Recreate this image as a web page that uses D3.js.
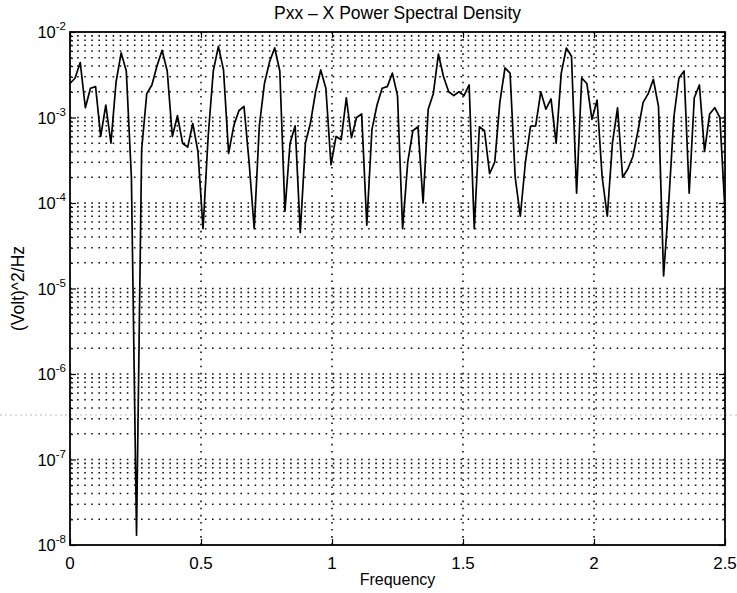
<!DOCTYPE html>
<html>
<head>
<meta charset="utf-8">
<script src="https://cdn.jsdelivr.net/npm/d3@7"></script>
<style>
body { margin: 0; background: #fff; }
text { font-family: "Liberation Sans", Arial, sans-serif; fill: #000; }
</style>
</head>
<body>
<script>
"use strict";

// PSD bins: 129 points from 0 to 2.5 Hz
const binWidth = 2.5 / 128

const psd = [
    2.5e-3, 2.9e-3, 4.4e-3, 1.3e-3, 2.2e-3, 2.3e-3, 6e-4, 1.4e-3, 5e-4, 2.6e-3,
    5.7e-3, 3.5e-3, 2e-4, 1.3e-8, 4.2e-4, 1.9e-3, 2.4e-3, 4e-3, 6.1e-3, 3.5e-3,
    6e-4, 1.05e-3, 5e-4, 4.5e-4, 8.5e-4, 4e-4, 5e-5, 6e-4, 3.5e-3, 6.8e-3,
    3.6e-3, 3.8e-4, 8e-4, 1.2e-3, 1.35e-3, 3e-4, 5e-5, 8e-4, 2.5e-3, 4.5e-3,
    6.5e-3, 3.5e-3, 8e-5, 5e-4, 8e-4, 4.5e-5, 5e-4, 8.7e-4, 2e-3, 3.6e-3,
    2.2e-3, 2.8e-4, 6e-4, 5.5e-4, 1.7e-3, 5.8e-4, 1e-3, 1.1e-3, 5.5e-5, 7.2e-4,
    1.4e-3, 2.2e-3, 2.3e-3, 3.3e-3, 1.8e-3, 5e-5, 3e-4, 7e-4, 7.8e-4, 1e-4,
    1.25e-3, 1.9e-3, 5.5e-3, 3e-3, 2e-3, 1.8e-3, 2e-3, 1.8e-3, 2.4e-3, 5e-5,
    7.8e-4, 7e-4, 2.2e-4, 3e-4, 1.5e-3, 3.8e-3, 3.3e-3, 2e-4, 7e-5, 3e-4,
    7.9e-4, 8e-4, 2e-3, 1.25e-3, 1.65e-3, 5e-4, 3.3e-3, 6.5e-3, 5.2e-3, 1.3e-4,
    2.9e-3, 2.5e-3, 9.5e-4, 1.6e-3, 2e-4, 7e-5, 5e-4, 1.3e-3, 2e-4, 2.5e-4,
    3.5e-4, 7e-4, 1.5e-3, 1.9e-3, 2.8e-3, 1.35e-3, 1.4e-5, 1e-4, 1e-3, 2.9e-3,
    3.5e-3, 1.3e-4, 1.7e-3, 2.4e-3, 4e-4, 1.1e-3, 1.3e-3, 1e-3, 8e-5
]

const xTicks = [0, 0.5, 1, 1.5, 2, 2.5]
const xTickLabels = ["0", "0.5", "1", "1.5", "2", "2.5"]
const yExponents = [-8, -7, -6, -5, -4, -3, -2]
const minorMultipliers = [2, 3, 4, 5, 6, 7, 8, 9]

const titleText = "Pxx \u2013 X Power Spectral Density"
const xLabelText = "Frequency"
const yLabelText = "(Volt)^2/Hz"

const measurements = {
    width: 737,
    height: 593,
    left: 70,
    right: 725,
    top: 32,
    bottom: 545
}

const svg = d3.select("body").append("svg")
    .attr("width", measurements.width)
    .attr("height", measurements.height)

const scaleX = d3.scaleLinear()
    .domain([0, 2.5])
    .range([measurements.left, measurements.right])

const scaleY = d3.scaleLog()
    .domain([1e-8, 1e-2])
    .range([measurements.bottom, measurements.top])

// grid values
let minorValues = []
yExponents.slice(0, -1).forEach(function(e) {
    minorMultipliers.forEach(function(m) {
        minorValues.push(m * Math.pow(10, e))
    })
})
const majorValues = yExponents.map((e) => Math.pow(10, e))

const grid = svg.append("g")
    .attr("stroke", "#111")
    .attr("stroke-width", 1.6)
    .attr("stroke-dasharray", "1.6,5.5")

grid.selectAll(".hgrid")
    .data(majorValues.concat(minorValues).filter((v) => v > 1e-8 && v < 1e-2))
    .enter()
    .append("line")
        .attr("x1", measurements.left)
        .attr("x2", measurements.right)
        .attr("y1", (d) => scaleY(d))
        .attr("y2", (d) => scaleY(d))

grid.selectAll(".vgrid")
    .data(xTicks.slice(1, -1))
    .enter()
    .append("line")
        .attr("x1", (d) => scaleX(d))
        .attr("x2", (d) => scaleX(d))
        .attr("y1", measurements.top)
        .attr("y2", measurements.bottom)

// scan streak across the page
svg.append("line")
    .attr("x1", 0).attr("x2", measurements.width)
    .attr("y1", 415).attr("y2", 415)
    .attr("stroke", "#bbb")
    .attr("stroke-width", 1)
    .attr("stroke-dasharray", "2,3")

// axes via d3 axis generators, ticks pointing inward
const xAxisBottom = d3.axisBottom(scaleX).tickValues(xTicks).tickSize(-6).tickFormat("")
const xAxisTop = d3.axisTop(scaleX).tickValues(xTicks).tickSize(-6).tickFormat("")
const yAxisLeft = d3.axisLeft(scaleY).tickValues(majorValues).tickSize(-6).tickFormat("")
const yAxisRight = d3.axisRight(scaleY).tickValues(majorValues).tickSize(-6).tickFormat("")
const yMinorLeft = d3.axisLeft(scaleY).tickValues(minorValues).tickSize(-3).tickFormat("")
const yMinorRight = d3.axisRight(scaleY).tickValues(minorValues).tickSize(-3).tickFormat("")

function addAxis(axis, tx, ty) {
    const g = svg.append("g")
        .attr("transform", "translate(" + tx + "," + ty + ")")
        .call(axis)
    g.select(".domain").remove()
    g.selectAll("line").attr("stroke", "#000").attr("stroke-width", 1.2)
    return g
}

addAxis(xAxisBottom, 0, measurements.bottom)
addAxis(xAxisTop, 0, measurements.top)
addAxis(yAxisLeft, measurements.left, 0)
addAxis(yAxisRight, measurements.right, 0)
addAxis(yMinorLeft, measurements.left, 0)
addAxis(yMinorRight, measurements.right, 0)

// the spectrum line
const line = d3.line()
    .x((d, i) => scaleX(i * binWidth))
    .y((d) => scaleY(d))

svg.append("path")
    .datum(psd)
    .attr("d", line)
    .attr("fill", "none")
    .attr("stroke", "#000")
    .attr("stroke-width", 1.7)
    .attr("stroke-linejoin", "round")

// box
svg.append("rect")
    .attr("x", measurements.left)
    .attr("y", measurements.top)
    .attr("width", measurements.right - measurements.left)
    .attr("height", measurements.bottom - measurements.top)
    .attr("fill", "none")
    .attr("stroke", "#000")
    .attr("stroke-width", 1.8)

// tick labels
svg.selectAll(".xlab")
    .data(xTicks)
    .enter()
    .append("text")
        .attr("x", (d) => scaleX(d))
        .attr("y", 569)
        .attr("text-anchor", "middle")
        .style("font-size", "17px")
        .text((d, i) => xTickLabels[i])

const yLabs = svg.selectAll(".ylab")
    .data(yExponents)
    .enter()
    .append("text")
        .attr("x", 66)
        .attr("y", (d) => scaleY(Math.pow(10, d)) + 6)
        .attr("text-anchor", "end")
        .style("font-size", "16.5px")

yLabs.append("tspan").text("10")
yLabs.append("tspan")
    .attr("dy", -8)
    .style("font-size", "11.5px")
    .text((d) => "-" + Math.abs(d))

svg.append("text")
    .attr("x", (measurements.left + measurements.right) / 2)
    .attr("y", 19)
    .attr("text-anchor", "middle")
    .style("font-size", "17.5px")
    .text(titleText)

svg.append("text")
    .attr("x", (measurements.left + measurements.right) / 2)
    .attr("y", 585)
    .attr("text-anchor", "middle")
    .style("font-size", "16px")
    .text(xLabelText)

svg.append("text")
    .attr("text-anchor", "middle")
    .attr("transform", "translate(24," + (measurements.top + measurements.bottom) / 2 + ")rotate(-90)")
    .style("font-size", "17.5px")
    .text(yLabelText)
</script>
</body>
</html>
